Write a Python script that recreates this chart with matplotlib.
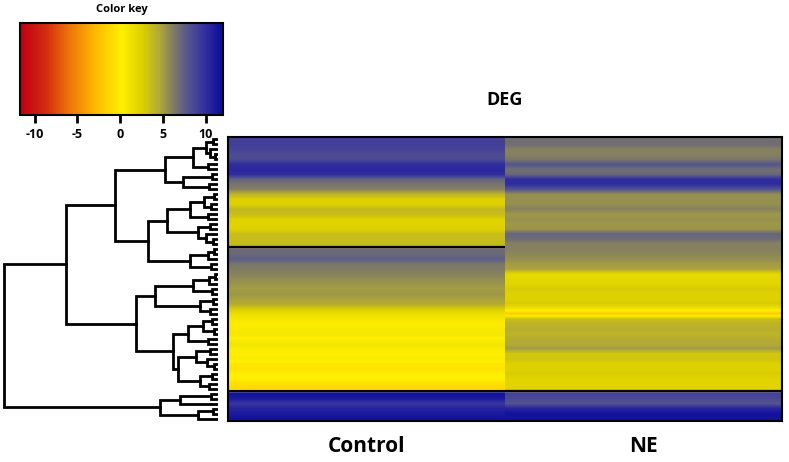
import numpy as np
import matplotlib
matplotlib.use("Agg")
import matplotlib.pyplot as plt
from matplotlib.colors import LinearSegmentedColormap, Normalize
from matplotlib.cm import ScalarMappable

plt.rcParams['font.family'] = ['Open Sans', 'DejaVu Sans']
plt.rcParams['axes.unicode_minus'] = False

# expression values per gene (row), top to bottom
control = [9, 9, 8.8, 8.3, 8.5, 10, 10.2, 10, 7.2, 6.5, 6, 4, 2.5, 2.5, 3.8,
           3.5, 2.5, 2.3, 2.5, 3.5, 3.5, 3.5, 7, 7, 7.5, 6.5, 6.2, 6, 5.6,
           5.3, 5, 5.2, 4.8, 4.4, 2.8, 1.5, 0.8, 0.5, 0.6, 0.8, 0.3, 1.0, 0.5,
           0.3, 0.5, -0.3, -0.6, 0, 0.2, -0.7, -1.2, 11.5, 11, 9.5, 10.5, 11, 11.5]
ne = [6.8, 6.8, 6, 6, 6.5, 7.8, 6.8, 7, 10, 10, 8, 5.5, 5.5, 5.5, 6, 5.2,
      5.4, 5.2, 5.3, 7.2, 6.8, 6, 6, 5.8, 5.5, 5, 4.8, 2, 2, 2.2, 2.8, 2.5,
      2.5, 2.8, 1, -2, 3.5, 4, 4.2, 4, 4.3, 4.5, 5, 3, 3.2, 2.5, 2.5, 2.8,
      2.3, 2.2, 2.2, 9, 8.5, 8, 10.5, 11.5, 11.5]
samples = ['Control', 'NE']
key_ticks = [-10, -5, 0, 5, 10]

# row dendrogram: (height, left, right), leaves are row indices
tree = (215,
        (153,
         (103,
          (53,
           (25, (12, (5, 0, 1), (8, 2, (3, 3, 4))), (10, 5, 6)),
           (35, (6, 7, 8), (9, 9, 10))),
          (70,
           (51,
            (28, (14, (4, 11, 12), (7, 13, 14)), (10, 15, 16)),
            (20, (8, 17, 18), (12, 19, (5, 20, 21)))),
           (28, (10, (4, 22, 23), 24), (7, 25, 26)))),
         (82,
          (63,
           (25, (9, (3, 27, 28), 29), (6, 30, 31)),
           (18, (5, 32, 33), (8, 34, 35))),
          (45,
           (30, (15, (6, 36, 37), (4, 38, 39)), (10, 40, 41)),
           (40, (22, (8, 42, 43), (11, 44, (4, 45, 46))),
            (18, (6, 47, 48), (9, 49, 50)))))),
        (58, (38, (7, 51, 52), 53), (20, (5, 54, 55), 56)))

cmap = LinearSegmentedColormap.from_list('key', [
    (0.0, '#bf0010'), (3 / 24, '#d42a10'), (6 / 24, '#ee7a08'),
    (9 / 24, '#ffbb00'), (12 / 24, '#fff000'), (14.5 / 24, '#dcd000'),
    (16.5 / 24, '#b0a838'), (18 / 24, '#858060'), (19.5 / 24, '#5c5c88'),
    (21.5 / 24, '#3a36a0'), (1.0, '#0a0a9a')])
norm = Normalize(-11.7, 12)

W, H = 789, 462
fig = plt.figure(figsize=(W / 100, H / 100), dpi=100)


def box(x0, y0, x1, y1):
    return [x0 / W, 1 - y1 / H, (x1 - x0) / W, (y1 - y0) / H]


n = len(control)

# heatmap
ax = fig.add_axes(box(228, 137, 782, 421))
for j, col in enumerate([control, ne]):
    ax.imshow(np.array(col).reshape(-1, 1), cmap=cmap, norm=norm, aspect='auto',
              interpolation='bilinear', extent=(j, j + 1, n, 0))
ax.set_xlim(0, 2)
ax.set_ylim(n, 0)
ax.hlines(22, 0, 1, color='black', lw=1.5)
ax.hlines(51, 0, 2, color='black', lw=1.5)
ax.set_xticks([])
ax.set_yticks([])
for s in ax.spines.values():
    s.set_linewidth(1.5)
for j, name in enumerate(samples):
    ax.text((j + 0.5) / 2, -0.09, name, transform=ax.transAxes, ha='center',
            va='center', fontsize=15, fontweight='bold')
ax.text(0.5, 1.13, 'DEG', transform=ax.transAxes, ha='center', va='center',
        fontsize=13, fontweight='bold')

# dendrogram
dax = fig.add_axes(box(3, 137, 218, 421))


def draw(node):
    if isinstance(node, int):
        return node + 0.5, 0
    h, l, r = node
    yl, hl = draw(l)
    yr, hr = draw(r)
    dax.plot([hl, h, h, hr], [yl, yl, yr, yr], color='black', lw=2,
             solid_joinstyle='miter')
    return (yl + yr) / 2, h


draw(tree)
dax.set_xlim(tree[0] + 1, 0)
dax.set_ylim(n, 0)
dax.axis('off')

# color key
cax = fig.add_axes(box(20, 23, 223, 115))
cb = fig.colorbar(ScalarMappable(norm=norm, cmap=cmap), cax=cax,
                  orientation='horizontal', ticks=key_ticks)
cb.outline.set_linewidth(1.5)
cax.tick_params(length=6, width=2, labelsize=9, pad=3)
for t in cax.get_xticklabels():
    t.set_fontweight('bold')
cax.set_title('Color key', fontsize=8, fontweight='bold', pad=8)

fig.savefig('out.png', dpi=100)
